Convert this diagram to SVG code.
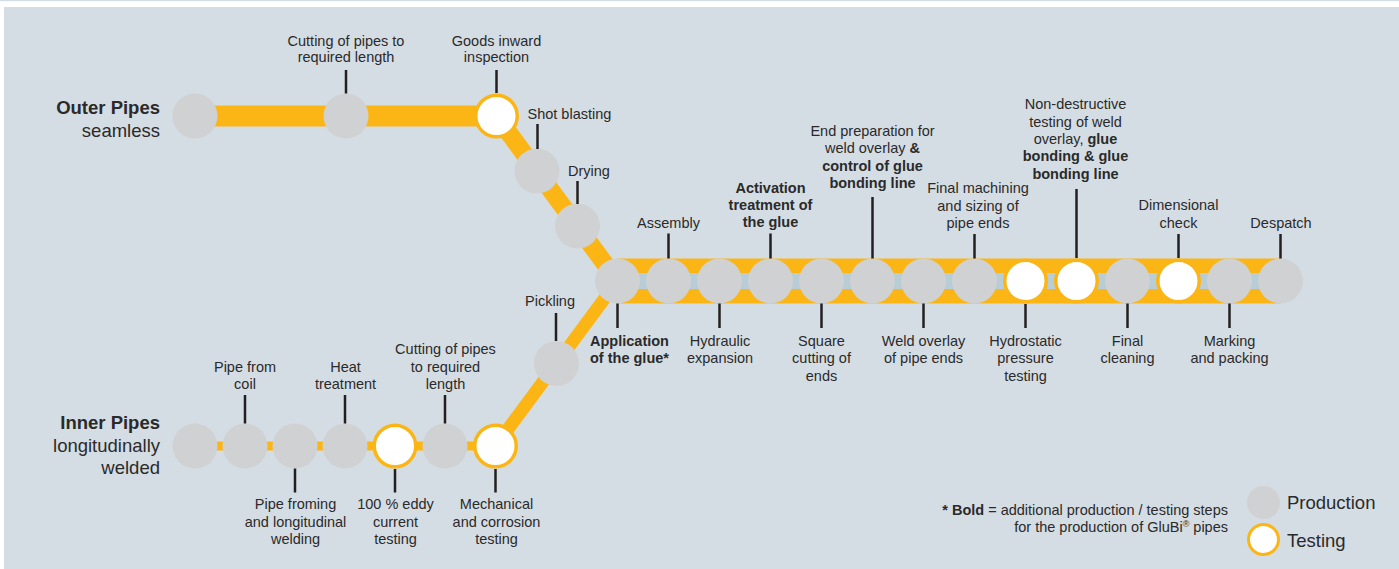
<svg xmlns="http://www.w3.org/2000/svg" width="1399" height="569" viewBox="0 0 1399 569">
<style>
.bg{fill:#d5dde4}
.band{fill:none;stroke:#fbb616;stroke-linecap:butt;stroke-linejoin:round}
.prod{fill:#d0d1d3}
.test{fill:#ffffff;stroke:#fbb616;stroke-width:3.5}
.tick{stroke:#231f20;stroke-width:2.5}
text{font-family:"Liberation Sans",Arial,sans-serif;font-size:14.5px;fill:#2a2a2a}
.c{text-anchor:middle}
.b{font-weight:bold}
.big{font-size:18.5px}
.e{text-anchor:end}
</style>
<rect x="0" y="0" width="1399" height="569" fill="#ffffff"/>
<rect x="0" y="0" width="1399" height="1.2" class="bg"/>
<rect x="4" y="7" width="1395" height="562" class="bg"/>

<g id="connectors">
  <line class="band" x1="195" y1="116" x2="496.5" y2="116" stroke-width="21"/>
  <polyline class="band" points="496.5,116 617.5,281" stroke-width="18"/>
  <line class="band" x1="195" y1="446" x2="495.5" y2="446" stroke-width="9"/>
  <polyline class="band" points="495.5,446 617.5,281" stroke-width="13"/>
  <rect x="617.5" y="258.5" width="663" height="45" fill="#fbb616"/>
  <rect x="617.5" y="273" width="663" height="16" fill="#b9cdd6"/>
</g>

<g id="title-outer">
  <text class="big b e" x="160" y="114">Outer Pipes</text>
  <text class="big e" x="160" y="137">seamless</text>
</g>
<g id="title-inner">
  <text class="big b e" x="160" y="429">Inner Pipes</text>
  <text class="big e" x="160" y="451.5">longitudinally</text>
  <text class="big e" x="160" y="473.5">welded</text>
</g>

<g id="o1"><circle class="prod" cx="195" cy="116" r="22.5"/></g>
<g id="o2"><circle class="prod" cx="346" cy="116" r="22.5"/><line class="tick" x1="346" y1="70" x2="346" y2="93.5"/>
  <text class="c" x="346" y="45.5">Cutting of pipes to</text><text class="c" x="346" y="62">required length</text></g>
<g id="o3"><circle class="test" cx="496.5" cy="116" r="20.75"/><line class="tick" x1="496.5" y1="70" x2="496.5" y2="93"/>
  <text class="c" x="496.5" y="45.5">Goods inward</text><text class="c" x="496.5" y="62">inspection</text></g>
<g id="o4"><circle class="prod" cx="537" cy="171" r="22.5"/><line class="tick" x1="537.5" y1="124" x2="537.5" y2="149"/>
  <text x="527.5" y="119.3">Shot blasting</text></g>
<g id="o5"><circle class="prod" cx="577.5" cy="226" r="22.5"/><line class="tick" x1="577.5" y1="181" x2="577.5" y2="204"/>
  <text x="568" y="175.7">Drying</text></g>

<g id="p1"><circle class="prod" cx="556.5" cy="363.5" r="22.5"/><line class="tick" x1="556" y1="313" x2="556" y2="341"/>
  <text class="c" x="550" y="306">Pickling</text></g>

<g id="m1"><circle class="prod" cx="617.5" cy="281" r="22.5"/><line class="tick" x1="617.5" y1="303.5" x2="617.5" y2="328"/>
  <text class="c b" x="629.5" y="346">Application</text><text class="c b" x="629.5" y="363.3">of the glue*</text></g>
<g id="m2"><circle class="prod" cx="668.5" cy="281" r="22.5"/><line class="tick" x1="668.5" y1="233.5" x2="668.5" y2="258.5"/>
  <text class="c" x="668.5" y="228.3">Assembly</text></g>
<g id="m3"><circle class="prod" cx="719.5" cy="281" r="22.5"/><line class="tick" x1="719.5" y1="303.5" x2="719.5" y2="328"/>
  <text class="c" x="720" y="346">Hydraulic</text><text class="c" x="720" y="363.3">expansion</text></g>
<g id="m4"><circle class="prod" cx="770.5" cy="281" r="22.5"/><line class="tick" x1="770.5" y1="233.5" x2="770.5" y2="258.5"/>
  <text class="c b" x="770.5" y="192.7">Activation</text><text class="c b" x="770.5" y="210">treatment of</text><text class="c b" x="770.5" y="227.3">the glue</text></g>
<g id="m5"><circle class="prod" cx="821.5" cy="281" r="22.5"/><line class="tick" x1="821.5" y1="303.5" x2="821.5" y2="328"/>
  <text class="c" x="821.5" y="346">Square</text><text class="c" x="821.5" y="363.3">cutting of</text><text class="c" x="821.5" y="380.6">ends</text></g>
<g id="m6"><circle class="prod" cx="872.5" cy="281" r="22.5"/><line class="tick" x1="872.5" y1="197" x2="872.5" y2="258.5"/>
  <text class="c" x="872.5" y="136">End preparation for</text>
  <text class="c" x="872.5" y="153.3">weld overlay <tspan class="b">&amp;</tspan></text>
  <text class="c b" x="872.5" y="170.6">control of glue</text>
  <text class="c b" x="872.5" y="188">bonding line</text></g>
<g id="m7"><circle class="prod" cx="923.5" cy="281" r="22.5"/><line class="tick" x1="923.5" y1="303.5" x2="923.5" y2="328"/>
  <text class="c" x="923.5" y="346">Weld overlay</text><text class="c" x="923.5" y="363.3">of pipe ends</text></g>
<g id="m8"><circle class="prod" cx="974.5" cy="281" r="22.5"/><line class="tick" x1="974.5" y1="234" x2="974.5" y2="258.5"/>
  <text class="c" x="978" y="193.3">Final machining</text><text class="c" x="978" y="210.5">and sizing of</text><text class="c" x="978" y="227.7">pipe ends</text></g>
<g id="m9"><circle class="test" cx="1025.5" cy="281" r="20.75"/><line class="tick" x1="1025.5" y1="304" x2="1025.5" y2="328"/>
  <text class="c" x="1025.5" y="346">Hydrostatic</text><text class="c" x="1025.5" y="363.3">pressure</text><text class="c" x="1025.5" y="380.6">testing</text></g>
<g id="m10"><circle class="test" cx="1076.5" cy="281" r="20.75"/><line class="tick" x1="1076.5" y1="189" x2="1076.5" y2="258"/>
  <text class="c" x="1075.5" y="109.3">Non-destructive</text>
  <text class="c" x="1075.5" y="126.7">testing of weld</text>
  <text class="c" x="1075.5" y="144">overlay, <tspan class="b">glue</tspan></text>
  <text class="c b" x="1075.5" y="161.3">bonding &amp; glue</text>
  <text class="c b" x="1075.5" y="178.7">bonding line</text></g>
<g id="m11"><circle class="prod" cx="1127.5" cy="281" r="22.5"/><line class="tick" x1="1127.5" y1="303.5" x2="1127.5" y2="328"/>
  <text class="c" x="1127.5" y="346">Final</text><text class="c" x="1127.5" y="363.3">cleaning</text></g>
<g id="m12"><circle class="test" cx="1178.5" cy="281" r="20.75"/><line class="tick" x1="1178.5" y1="234" x2="1178.5" y2="258"/>
  <text class="c" x="1178.5" y="210">Dimensional</text><text class="c" x="1178.5" y="227.5">check</text></g>
<g id="m13"><circle class="prod" cx="1229.5" cy="281" r="22.5"/><line class="tick" x1="1229.5" y1="303.5" x2="1229.5" y2="328"/>
  <text class="c" x="1229.5" y="346">Marking</text><text class="c" x="1229.5" y="363.3">and packing</text></g>
<g id="m14"><circle class="prod" cx="1280.5" cy="281" r="22.5"/><line class="tick" x1="1280.5" y1="234" x2="1280.5" y2="258.5"/>
  <text class="c" x="1281" y="227.5">Despatch</text></g>

<g id="i1"><circle class="prod" cx="195" cy="446" r="22.5"/></g>
<g id="i2"><circle class="prod" cx="245" cy="446" r="22.5"/><line class="tick" x1="245" y1="395" x2="245" y2="423.5"/>
  <text class="c" x="245" y="371.7">Pipe from</text><text class="c" x="245" y="389">coil</text></g>
<g id="i3"><circle class="prod" cx="295" cy="446" r="22.5"/><line class="tick" x1="295" y1="468.5" x2="295" y2="492.5"/>
  <text class="c" x="295.5" y="509">Pipe froming</text><text class="c" x="295.5" y="526.5">and longitudinal</text><text class="c" x="295.5" y="544">welding</text></g>
<g id="i4"><circle class="prod" cx="345" cy="446" r="22.5"/><line class="tick" x1="345" y1="395" x2="345" y2="423.5"/>
  <text class="c" x="345.5" y="371.7">Heat</text><text class="c" x="345.5" y="389">treatment</text></g>
<g id="i5"><circle class="test" cx="395" cy="446" r="20.75"/><line class="tick" x1="395" y1="469" x2="395" y2="492.5"/>
  <text class="c" x="395.5" y="509">100 % eddy</text><text class="c" x="395.5" y="526.5">current</text><text class="c" x="395.5" y="544">testing</text></g>
<g id="i6"><circle class="prod" cx="445" cy="446" r="22.5"/><line class="tick" x1="445" y1="395" x2="445" y2="423.5"/>
  <text class="c" x="445.5" y="354.3">Cutting of pipes</text><text class="c" x="445.5" y="371.7">to required</text><text class="c" x="445.5" y="389">length</text></g>
<g id="i7"><circle class="test" cx="495.5" cy="446" r="20.75"/><line class="tick" x1="495.5" y1="469" x2="495.5" y2="492.5"/>
  <text class="c" x="496.5" y="509">Mechanical</text><text class="c" x="496.5" y="526.5">and corrosion</text><text class="c" x="496.5" y="544">testing</text></g>

<g id="legend">
  <circle class="prod" cx="1263.5" cy="502.5" r="16.5"/>
  <circle cx="1263.5" cy="539.5" r="15" fill="#ffffff" stroke="#fbb616" stroke-width="3"/>
  <text class="big" x="1287" y="509">Production</text>
  <text class="big" x="1287" y="546.5">Testing</text>
  <text class="e" x="1228" y="515"><tspan class="b">* Bold</tspan> = additional production / testing steps</text>
  <text class="e" x="1228" y="532.3">for the production of GluBi<tspan font-size="9" dy="-5">®</tspan><tspan dy="5"> pipes</tspan></text>
</g>
</svg>
